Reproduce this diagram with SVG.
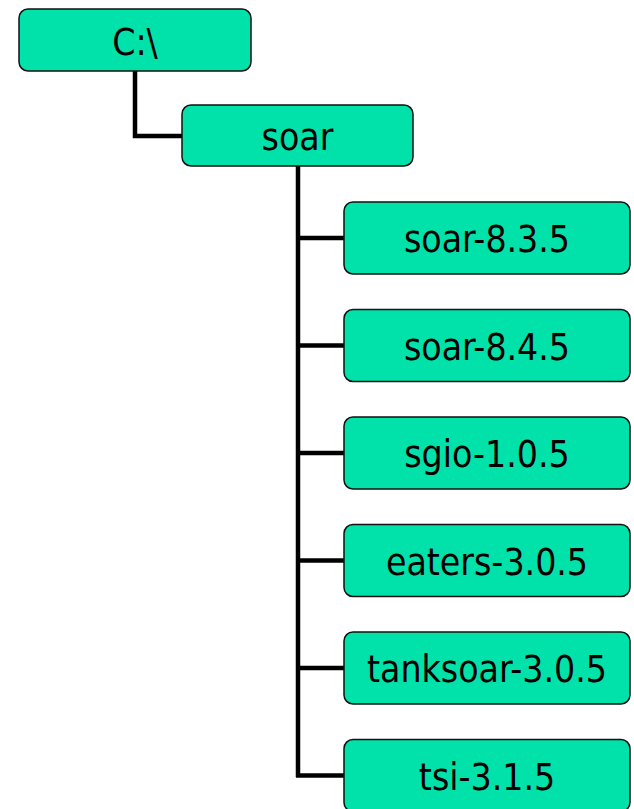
<svg xmlns="http://www.w3.org/2000/svg" width="634" height="809" viewBox="0 0 634 809">
<style>
.box{fill:#00E2AA;stroke:#111;stroke-width:1.5}
.lbl{font-family:"DejaVu Sans Condensed","DejaVu Sans",sans-serif;font-size:37px;fill:#000;text-anchor:middle}
.con{fill:none;stroke:#000;stroke-width:4.5;stroke-linejoin:miter}
</style>
<rect width="634" height="809" fill="#fff"/>
<g id="connectors">
<path class="con" d="M135,71 V136 H183"/>
<path class="con" d="M298,166 V777"/>
<path class="con" d="M298,238 H345"/>
<path class="con" d="M298,345.5 H345"/>
<path class="con" d="M298,453 H345"/>
<path class="con" d="M298,560.5 H345"/>
<path class="con" d="M298,668 H345"/>
<path class="con" d="M296,775.5 H345"/>
</g>
<g id="node-c"><rect class="box" x="19" y="9" width="232" height="62" rx="9"/><text class="lbl" x="135" y="55">C:\</text></g>
<g id="node-soar"><rect class="box" x="182" y="105" width="231" height="61" rx="9"/><text class="lbl" x="297.5" y="150">soar</text></g>
<g id="node-soar835"><rect class="box" x="344" y="202" width="286" height="72" rx="9"/><text class="lbl" x="487" y="252">soar-8.3.5</text></g>
<g id="node-soar845"><rect class="box" x="344" y="309.5" width="286" height="72" rx="9"/><text class="lbl" x="487" y="359.5">soar-8.4.5</text></g>
<g id="node-sgio"><rect class="box" x="344" y="417" width="286" height="72" rx="9"/><text class="lbl" x="487" y="467">sgio-1.0.5</text></g>
<g id="node-eaters"><rect class="box" x="344" y="524.5" width="286" height="72" rx="9"/><text class="lbl" x="487" y="574.5">eaters-3.0.5</text></g>
<g id="node-tanksoar"><rect class="box" x="344" y="632" width="286" height="72" rx="9"/><text class="lbl" x="487" y="682">tanksoar-3.0.5</text></g>
<g id="node-tsi"><rect class="box" x="344" y="739.5" width="286" height="72" rx="9"/><text class="lbl" x="487" y="789.5">tsi-3.1.5</text></g>
</svg>
